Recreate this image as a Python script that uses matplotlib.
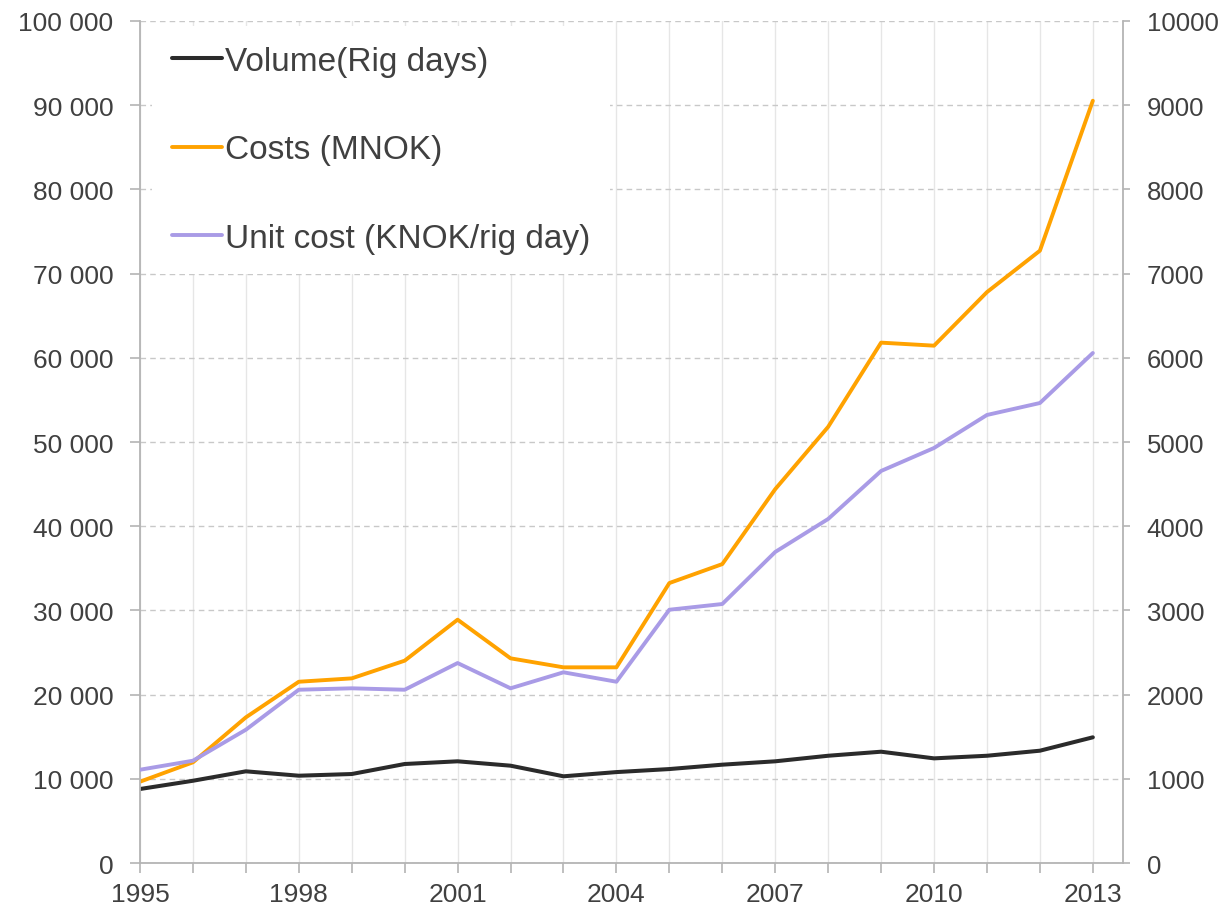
import matplotlib
matplotlib.use("Agg")
import matplotlib.pyplot as plt
from matplotlib.ticker import FuncFormatter

# data
years = list(range(1995, 2014))
volume = [8790, 9770, 10890, 10370, 10570, 11760, 12080, 11560, 10300, 10800,
          11160, 11680, 12080, 12740, 13220, 12430, 12740, 13340, 14930]
costs = [9660, 11960, 17300, 21530, 21930, 24030, 28900, 24310, 23240, 23240,
         33250, 35500, 44400, 51800, 61800, 61440, 67800, 72720, 90530]
unit_cost = [1108, 1215, 1583, 2058, 2075, 2058, 2375, 2075, 2265, 2153,
             3008, 3076, 3694, 4086, 4656, 4929, 5321, 5463, 6057]
label_years = [1995, 1998, 2001, 2004, 2007, 2010, 2013]

plt.rcParams['font.family'] = ['Liberation Sans', 'DejaVu Sans']
txt = '#404040'
spine_c = '#b4b4b4'

fig = plt.figure(figsize=(12.28, 9.12), dpi=100)
ax = fig.add_axes([0.114, 0.0526, 0.8005, 0.9233])
ax2 = ax.twinx()

l1, = ax.plot(years, volume, color='#2b2b2b', lw=2.9, label='Volume(Rig days)', solid_capstyle='round')
l2, = ax.plot(years, costs, color='#ffa200', lw=2.8, label='Costs (MNOK)', solid_capstyle='round')
l3, = ax2.plot(years, unit_cost, color='#a99be6', lw=2.8, label='Unit cost (KNOK/rig day)', solid_capstyle='round')

ax.set_xlim(1995, 2013.57)
ax.set_ylim(0, 100000)
ax2.set_ylim(0, 10000)

ax.set_yticks(range(0, 100001, 10000))
ax.yaxis.set_major_formatter(FuncFormatter(lambda v, p: '{:,}'.format(int(v)).replace(',', ' ')))
ax2.set_yticks(range(0, 10001, 1000))
ax.set_xticks(years)
ax.set_xticklabels([str(y) if y in label_years else '' for y in years])

ax.yaxis.grid(True, color='#c8c8c8', linestyle=(0, (4, 3)), lw=1)
ax.xaxis.grid(True, color='#e6e6e6', linestyle='-', lw=1)
ax.set_axisbelow(True)

for a in (ax, ax2):
    a.spines['top'].set_visible(False)
    for s in ('left', 'right', 'bottom'):
        a.spines[s].set_color(spine_c)
        a.spines[s].set_linewidth(1.3)
    a.tick_params(axis='both', colors=spine_c, labelcolor=txt, labelsize=19, width=1.2)
ax.spines['right'].set_visible(False)
ax2.spines['left'].set_visible(False)
ax2.spines['bottom'].set_visible(False)
ax.tick_params(axis='y', length=7, pad=12)
ax.tick_params(axis='x', length=7, pad=7)
ax2.tick_params(axis='y', length=5, pad=12, labelsize=18.5)

leg = ax2.legend(handles=[l1, l2, l3], loc='upper left', bbox_to_anchor=(0.012, 0.994),
                 fontsize=24, labelspacing=1.72, handlelength=1.5, handletextpad=0.1,
                 frameon=True, facecolor='white', edgecolor='none', framealpha=1,
                 borderaxespad=0, borderpad=0.6)
for t in leg.get_texts():
    t.set_color(txt)
leg.set_zorder(10)

fig.savefig('out.png', dpi=100)
